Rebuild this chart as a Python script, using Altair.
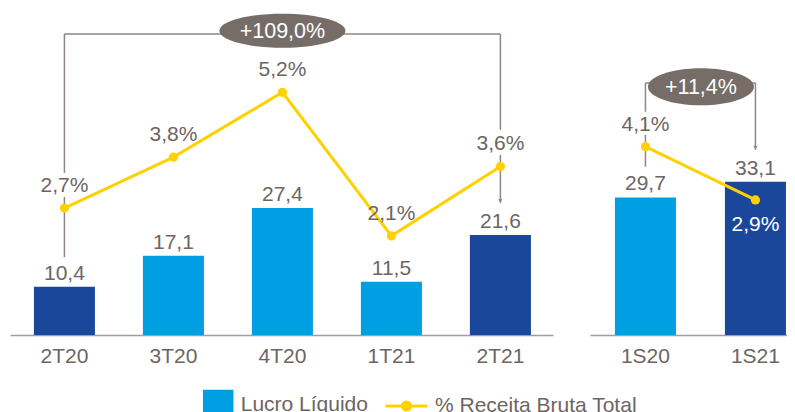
import altair as alt
import pandas as pd

# ---------------- data ----------------
tri_cats = ["2T20", "3T20", "4T20", "1T21", "2T21"]
tri_lucro = [10.4, 17.1, 27.4, 11.5, 21.6]
tri_pct = [2.7, 3.8, 5.2, 2.1, 3.6]
tri_destaque = [True, False, False, False, True]
tri_pct_pos = ["acima", "acima", "acima", "acima", "acima"]

sem_cats = ["1S20", "1S21"]
sem_lucro = [29.7, 33.1]
sem_pct = [4.1, 2.9]
sem_destaque = [False, True]
sem_pct_pos = ["acima", "abaixo"]

var_tri = "+109,0%"
var_sem = "+11,4%"

SERIE_BAR = "Lucro Líquido"
SERIE_BAR_DARK = "Lucro Líquido (destaque)"
SERIE_LINE = "% Receita Bruta Total"

# annotation brackets (in units of the bar axis)
tri_bracket_vert = [("2T20", 65.0, 35.0), ("2T20", 29.8, 16.8),
                    ("2T21", 65.0, 44.3), ("2T21", 38.9, 28.5)]
tri_bracket_top = 65.0
tri_arrow = ("2T21", 28.5)
tri_badge = ("4T20", 65.7)

sem_bracket_vert = [("1S20", 54.4, 48.2), ("1S20", 43.2, 36.35),
                    ("1S21", 54.4, 40.0)]
sem_bracket_top = 54.4
sem_arrow = ("1S21", 40.0)
sem_badge = ("1S20", 53.6)

# ---------------- styles ----------------
FONT = "Liberation Sans"
FS = 21
TXT = "#6D6562"
LIGHT = "#009FE3"
DARK = "#1B479B"
YEL = "#FFD100"
BADGE = "#766D69"
RULE = "#8E8784"
BAR_MAX = 70.6
ARROW_PATH = "M-1,-2L1,-2L0,0Z"
LEGEND_LINE = "M-1.4,0L1.4,0M0.27,0A0.27,0.27,0,1,1,-0.27,0A0.27,0.27,0,1,1,0.27,0Z"

fill_scale = alt.Scale(domain=[SERIE_BAR, SERIE_BAR_DARK], range=[LIGHT, DARK])
stroke_scale = alt.Scale(domain=[SERIE_LINE], range=[YEL])

fill_legend = alt.Legend(
    title=None, orient="none", legendX=192.7, legendY=381.5, direction="horizontal",
    values=[SERIE_BAR], symbolType="square", symbolSize=930, labelFontSize=FS,
    labelFont=FONT, labelColor=TXT, labelOffset=7, symbolOpacity=1,
    symbolStrokeWidth=0, labelLimit=0)
stroke_legend = alt.Legend(
    title=None, orient="none", legendX=380, legendY=381.5, direction="horizontal",
    symbolType=LEGEND_LINE, symbolSize=900, labelFontSize=FS,
    labelFont=FONT, labelColor=TXT, labelOffset=12, symbolOpacity=1,
    symbolStrokeWidth=3, symbolFillColor=YEL, symbolStrokeColor=YEL, labelLimit=0)


def fmt(v, pct=False):
    s = f"{v:.1f}".replace(".", ",")
    return s + "%" if pct else s


def ellipse(ry, shift=0.0):
    a = -1 + shift
    b = 1 + shift
    return (f"M{a},0A1,{ry},0,1,1,{b},0A1,{ry},0,1,1,{a},0Z")


def panel(cats, lucro, pct, destaque, pct_pos, verts, top, arrow, badge,
          badge_text, width, line_domain, xscale, badge_size, badge_ry, badge_dx):
    df = pd.DataFrame({
        "cat": cats, "lucro": lucro, "pct": pct,
        "lucro_lbl": [fmt(v) for v in lucro],
        "pct_lbl": [fmt(v, True) for v in pct],
        "pos": pct_pos,
        "serie": [SERIE_BAR_DARK if d else SERIE_BAR for d in destaque],
        "linha": [SERIE_LINE] * len(cats),
    })
    x = alt.X("cat:N", sort=cats, scale=xscale,
              axis=alt.Axis(title=None, labelAngle=0, labelAlign="center",
                            labelBaseline="top", ticks=False, tickSize=0,
                            labelPadding=10,
                            domainColor="#A39D9A", domainWidth=1.5, grid=False,
                            labelFontSize=FS, labelFont=FONT, labelColor=TXT))
    ybar = alt.Scale(domain=[0, BAR_MAX], nice=False, zero=False)
    yline = alt.Scale(domain=line_domain, nice=False, zero=False)

    vdf = pd.DataFrame(verts, columns=["cat", "y", "y2"])
    rules_v = alt.Chart(vdf).mark_rule(color=RULE, strokeWidth=1.5).encode(
        x=alt.X("cat:N", sort=cats, scale=xscale),
        y=alt.Y("y:Q", scale=ybar, axis=None), y2="y2:Q")
    hdf = pd.DataFrame({"a": [cats[0]], "b": [cats[-1]], "y": [top]})
    rule_h = alt.Chart(hdf).mark_rule(color=RULE, strokeWidth=1.5).encode(
        x=alt.X("a:N", sort=cats, scale=xscale), x2="b:N",
        y=alt.Y("y:Q", scale=ybar, axis=None))
    adf = pd.DataFrame({"cat": [arrow[0]], "y": [arrow[1]]})
    arrow_m = alt.Chart(adf).mark_point(shape=ARROW_PATH, filled=True, size=16,
                                        color=RULE, opacity=1).encode(
        x=alt.X("cat:N", sort=cats, scale=xscale),
        y=alt.Y("y:Q", scale=ybar, axis=None))

    base = alt.Chart(df)
    bars = base.mark_bar().encode(
        x=x, y=alt.Y("lucro:Q", scale=ybar, axis=None),
        fill=alt.Fill("serie:N", scale=fill_scale, legend=fill_legend))
    bar_lbl = base.mark_text(baseline="alphabetic", dy=-7, fontSize=FS, font=FONT,
                             color=TXT).encode(
        x=x, y=alt.Y("lucro:Q", scale=ybar, axis=None), text="lucro_lbl:N")
    line = base.mark_line(strokeWidth=3).encode(
        x=x, y=alt.Y("pct:Q", scale=yline, axis=None),
        stroke=alt.Stroke("linha:N", scale=stroke_scale, legend=stroke_legend))
    pts = base.mark_circle(size=85, opacity=1, color=YEL).encode(
        x=x, y=alt.Y("pct:Q", scale=yline, axis=None))
    pct_up = base.transform_filter("datum.pos === 'acima'").mark_text(
        baseline="alphabetic", dy=-16, fontSize=FS, font=FONT, color=TXT).encode(
        x=x, y=alt.Y("pct:Q", scale=yline, axis=None), text="pct_lbl:N")
    pct_dn = base.transform_filter("datum.pos === 'abaixo'").mark_text(
        baseline="alphabetic", dy=31, fontSize=FS, font=FONT, color="white").encode(
        x=x, y=alt.Y("pct:Q", scale=yline, axis=None), text="pct_lbl:N")

    bdf = pd.DataFrame({"cat": [badge[0]], "y": [badge[1]], "t": [badge_text]})
    badge_m = alt.Chart(bdf).mark_point(
        shape=ellipse(badge_ry, badge_dx), filled=True, size=badge_size,
        color=BADGE, opacity=1).encode(
        x=alt.X("cat:N", sort=cats, scale=xscale),
        y=alt.Y("y:Q", scale=ybar, axis=None))
    badge_t = alt.Chart(bdf).mark_text(
        fontSize=21.5, font=FONT, color="white", baseline="middle",
        dx=badge_dx * (badge_size ** 0.5) / 2, dy=1).encode(
        x=alt.X("cat:N", sort=cats, scale=xscale),
        y=alt.Y("y:Q", scale=ybar, axis=None), text="t:N")

    return alt.layer(rules_v, rule_h, arrow_m, bars, bar_lbl, line, pts, pct_up,
                     pct_dn, badge_m, badge_t).resolve_scale(
        y="independent").properties(width=width, height=327)


left = panel(tri_cats, tri_lucro, tri_pct, tri_destaque, tri_pct_pos,
             tri_bracket_vert, tri_bracket_top, tri_arrow, tri_badge, var_tri,
             543, [-0.04, 7.02],
             alt.Scale(domain=tri_cats, paddingInner=0.44, paddingOuter=0.211, align=0.52),
             15876, 0.27, 0.0)
right = panel(sem_cats, sem_lucro, sem_pct, sem_destaque, sem_pct_pos,
              sem_bracket_vert, sem_bracket_top, sem_arrow, sem_badge, var_sem,
              197, [-0.14, 7.22],
              alt.Scale(domain=sem_cats, paddingInner=0.445, paddingOuter=0.118, align=0.96),
              11236, 0.35, 55.5 / 53)

chart = alt.hconcat(left, right, spacing=37).properties(
    padding={"left": 2, "top": 0, "right": 0, "bottom": 0}
).configure(font=FONT).configure_view(stroke=None, strokeWidth=0)

chart.save("out.html", embed_options={"renderer": "svg", "actions": False})
